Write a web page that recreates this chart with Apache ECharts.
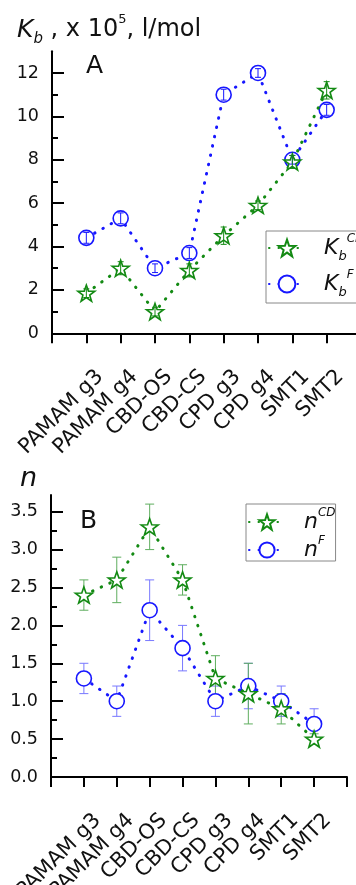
<!DOCTYPE html>
<html>
<head>
<meta charset="utf-8">
<script src="https://cdn.jsdelivr.net/npm/echarts@6/dist/echarts.min.js"></script>
<style>
  html, body { margin: 0; padding: 0; background: #fff; }
  #main { width: 356px; height: 885px; }
</style>
</head>
<body>
<div id="main"></div>
<script>
// data
var categories = ['PAMAM g3', 'PAMAM g4', 'CBD-OS', 'CBD-CS', 'CPD g3', 'CPD g4', 'SMT1', 'SMT2'];

var kbCD = [1.85, 3.0, 1.0, 2.9, 4.5, 5.9, 7.9, 11.2];
var kbCDErr = [0.2, 0.3, 0.2, 0.3, 0.4, 0.2, 0.3, 0.4];
var kbF = [4.4, 5.3, 3.0, 3.7, 11.0, 12.0, 8.0, 10.3];
var kbFErr = [0.25, 0.25, 0.2, 0.25, 0.25, 0.2, 0.2, 0.25];

var nCD = [2.4, 2.6, 3.3, 2.6, 1.3, 1.1, 0.9, 0.5];
var nCDErr = [0.2, 0.3, 0.3, 0.2, 0.3, 0.4, 0.2, 0.07];
var nF = [1.3, 1.0, 2.2, 1.7, 1.0, 1.2, 1.0, 0.7];
var nFErr = [0.2, 0.2, 0.4, 0.3, 0.2, 0.3, 0.2, 0.2];

var kbTicks = [0, 2, 4, 6, 8, 10, 12];
var nTicks = [0, 0.5, 1, 1.5, 2, 2.5, 3, 3.5];

var green = '#138a13';
var blue = '#1717ff';
var FONT = 'DejaVu Sans';
var STAR = 'path://M50 0L61.76 33.82L97.55 34.55L69.02 56.18L79.39 90.45L50 70L20.61 90.45L30.98 56.18L2.45 34.55L38.24 33.82Z';

// one empty slot on each side so the axis runs from 0 to 9
var axisCats = [' '].concat(categories).concat(['  ']);

function pairs(vals) {
  return categories.map(function (c, i) { return [c, vals[i]]; });
}
function errs(vals, e) {
  return categories.map(function (c, i) { return [c, vals[i] - e[i], vals[i] + e[i]]; });
}

function errorBar(color, cap) {
  return function (params, api) {
    var x = api.value(0);
    var lo = api.coord([x, api.value(1)]);
    var hi = api.coord([x, api.value(2)]);
    var st = { stroke: color, lineWidth: 1 };
    return {
      type: 'group',
      children: [
        { type: 'line', shape: { x1: lo[0], y1: lo[1], x2: hi[0], y2: hi[1] }, style: st },
        { type: 'line', shape: { x1: hi[0] - cap, y1: hi[1], x2: hi[0] + cap, y2: hi[1] }, style: st },
        { type: 'line', shape: { x1: lo[0] - cap, y1: lo[1], x2: lo[0] + cap, y2: lo[1] }, style: st }
      ]
    };
  };
}

function xAxisOf(grid) {
  return {
    type: 'category',
    gridIndex: grid,
    data: axisCats,
    boundaryGap: false,
    axisLine: { lineStyle: { color: '#000', width: 2 } },
    axisTick: { inside: false, length: 10, alignWithLabel: true, lineStyle: { color: '#000', width: 2 } },
    axisLabel: {
      interval: 0, rotate: 45, align: 'right', verticalAlign: 'top',
      padding: [22, 13, 0, 0], margin: 8,
      fontFamily: FONT, fontSize: 21, color: '#111'
    },
    splitLine: { show: false }
  };
}

function yAxisOf(grid, max, interval, ticks, fmt) {
  return {
    type: 'value',
    gridIndex: grid,
    min: 0, max: max, interval: interval,
    axisLine: { show: true, lineStyle: { color: '#000', width: 2 } },
    axisTick: { show: true, inside: true, length: 12, customValues: ticks, lineStyle: { color: '#000', width: 2 } },
    minorTick: { show: true, splitNumber: 2, length: 6, lineStyle: { color: '#000', width: 2 } },
    axisLabel: { customValues: ticks, margin: 13, fontFamily: FONT, fontSize: 17.5, color: '#111', formatter: fmt },
    splitLine: { show: false }
  };
}

function lineSeries(name, grid, vals, color, symbol, size, z) {
  return {
    name: name, type: 'line', xAxisIndex: grid, yAxisIndex: grid,
    data: pairs(vals),
    symbol: symbol, symbolSize: size, symbolKeepAspect: true,
    color: color,
    itemStyle: { color: '#fff', borderColor: color, borderWidth: 1.6 },
    lineStyle: { color: color, width: 3, type: [0.5, 9], cap: 'round' },
    z: z
  };
}

var legendText = {
  KbCD: '{m|K}{sb|b}{sp|CD}',
  KbF: '{m|K}{sb|b}{sp|F}',
  nCD: '{m|n}{sp|CD}',
  nF: '{m|n}{sp|F}'
};
var richLegend = {
  m: { fontFamily: FONT, fontSize: 22, fontStyle: 'italic', color: '#111', lineHeight: 30, padding: [0, 0, 0, 14] },
  sb: { fontFamily: FONT, fontSize: 13, fontStyle: 'italic', color: '#111', verticalAlign: 'bottom', lineHeight: 13 },
  sp: { fontFamily: FONT, fontSize: 12, fontStyle: 'italic', color: '#111', verticalAlign: 'top', lineHeight: 12 }
};

var myChart = echarts.init(document.getElementById('main'));

var option = {
  animation: false,
  backgroundColor: '#fff',
  grid: [
    { left: 52, top: 51.3, width: 309, height: 282, outerBoundsMode: 'none' },
    { left: 51, top: 495, width: 296, height: 282, outerBoundsMode: 'none' }
  ],
  xAxis: [xAxisOf(0), xAxisOf(1)],
  yAxis: [
    yAxisOf(0, 13, 2, kbTicks, '{value}'),
    yAxisOf(1, 3.72, 0.5, nTicks, function (v) { return v.toFixed(1); })
  ],
  legend: [
    {
      data: ['KbCD', 'KbF'], orient: 'vertical', left: 266, top: 231,
      padding: [2, 10, 4, 2], itemGap: 6, itemWidth: 36, itemHeight: 21,
      borderColor: '#888', borderWidth: 1, backgroundColor: '#fff',
      formatter: function (n) { return legendText[n]; },
      textStyle: { rich: richLegend }
    },
    {
      data: ['nCD', 'nF'], orient: 'vertical', left: 246, top: 504,
      padding: [3, 0, 0, 2], itemGap: 2, itemWidth: 36, itemHeight: 19,
      borderColor: '#888', borderWidth: 1, backgroundColor: '#fff',
      formatter: function (n) { return legendText[n]; },
      textStyle: { rich: richLegend }
    }
  ],
  graphic: [
    {
      type: 'text', left: 17, top: 13,
      style: {
        text: '{k|K}{b|b}{m| , x 10}{s|5}{m|, l/mol}',
        rich: {
          k: { fontFamily: FONT, fontSize: 25, fontStyle: 'italic', fill: '#111', lineHeight: 34 },
          m: { fontFamily: FONT, fontSize: 24, fill: '#111', lineHeight: 34 },
          b: { fontFamily: FONT, fontSize: 15, fontStyle: 'italic', fill: '#111', verticalAlign: 'bottom', lineHeight: 15 },
          s: { fontFamily: FONT, fontSize: 13, fill: '#111', verticalAlign: 'top', lineHeight: 13 }
        }
      }
    },
    { type: 'text', left: 86, top: 54, style: { text: 'A', fontFamily: FONT, fontSize: 25, fill: '#111' } },
    { type: 'text', left: 20, top: 465, style: { text: 'n', fontFamily: FONT, fontSize: 27, fontStyle: 'italic', fill: '#111' } },
    { type: 'text', left: 80, top: 509, style: { text: 'B', fontFamily: FONT, fontSize: 25, fill: '#111' } }
  ],
  series: [
    lineSeries('KbF', 0, kbF, blue, 'circle', 15, 3),
    lineSeries('KbCD', 0, kbCD, green, STAR, 17, 4),
    { type: 'custom', xAxisIndex: 0, yAxisIndex: 0, renderItem: errorBar(blue, 3), data: errs(kbF, kbFErr), encode: { x: 0, y: [1, 2] }, z: 6 },
    { type: 'custom', xAxisIndex: 0, yAxisIndex: 0, renderItem: errorBar(green, 3), data: errs(kbCD, kbCDErr), encode: { x: 0, y: [1, 2] }, z: 6 },

    { type: 'custom', xAxisIndex: 1, yAxisIndex: 1, renderItem: errorBar('#7878ff', 4.5), data: errs(nF, nFErr), encode: { x: 0, y: [1, 2] }, z: 1 },
    { type: 'custom', xAxisIndex: 1, yAxisIndex: 1, renderItem: errorBar('#5fae5f', 4.5), data: errs(nCD, nCDErr), encode: { x: 0, y: [1, 2] }, z: 1 },
    lineSeries('nF', 1, nF, blue, 'circle', 15, 3),
    lineSeries('nCD', 1, nCD, green, STAR, 17, 4)
  ]
};

myChart.setOption(option);
window.onresize = function () {
  myChart.resize();
};
</script>
</body>
</html>
